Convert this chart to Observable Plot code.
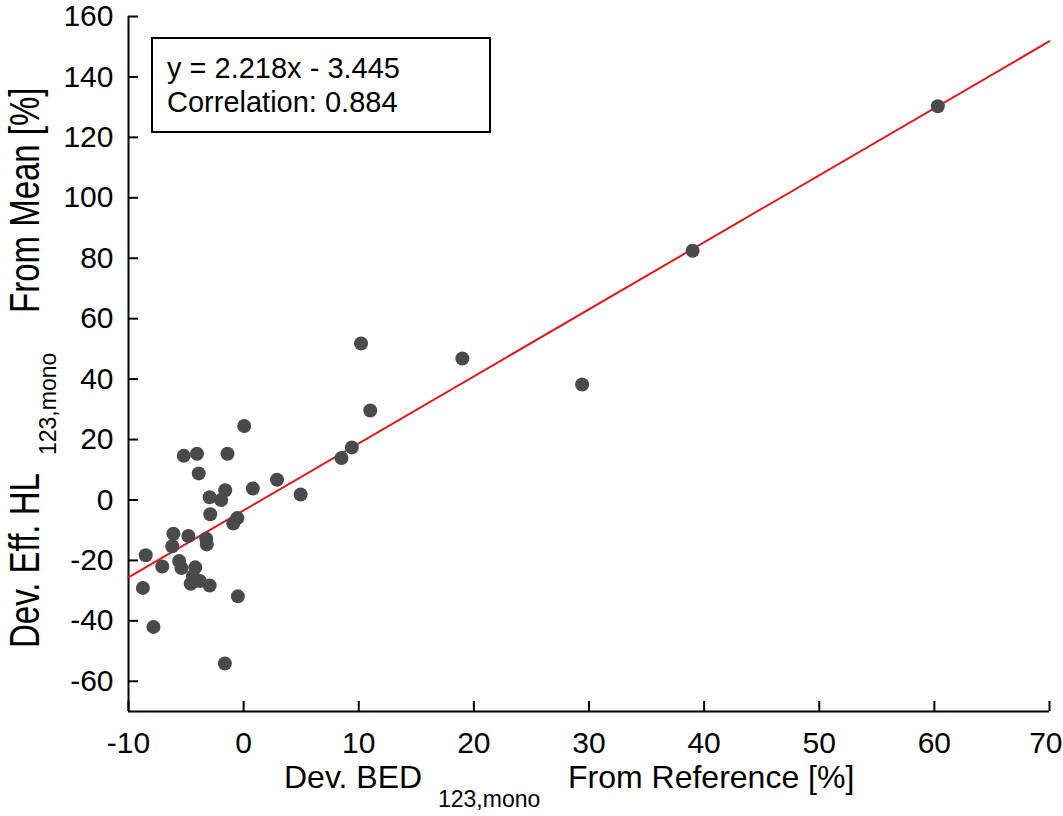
<!DOCTYPE html>
<html><head><meta charset="utf-8">
<script src="https://cdn.jsdelivr.net/npm/d3@7"></script>
<script src="https://cdn.jsdelivr.net/npm/@observablehq/plot@0.6"></script>
<style>body{margin:0;background:#fff;} svg{display:block}</style>
</head><body><div id="chart"></div>
<script>
// Dev. BED_123,mono from reference [%]
const devBED = [60.3, 39.0, 29.4, 19.0, 10.2, 11.0, 9.4, 8.5, 4.95, 2.9, 0.8, 0.05, -1.4, -4.05, -5.2, -3.9, -1.6, -2.95, -1.95, -2.9, -0.55, -0.9, -6.1, -4.8, -6.2, -3.25, -3.2, -8.5, -7.07, -5.6, -5.4, -4.2, -4.4, -4.26, -4.6, -3.8, -2.95, -8.75, -0.5, -7.83, -1.63];
// Dev. Eff. HL_123,mono from mean [%]
const devHL = [130.3, 82.5, 38.2, 46.8, 51.8, 29.6, 17.4, 13.9, 1.8, 6.7, 3.8, 24.5, 15.3, 15.3, 14.6, 8.8, 3.2, 0.9, 0.0, -4.7, -6.0, -7.8, -11.2, -11.9, -15.3, -12.8, -14.7, -18.3, -22.0, -20.2, -22.5, -22.3, -25.2, -26.8, -27.7, -26.8, -28.3, -29.1, -31.9, -42.0, -54.1];
const fitSlope = 2.218;
const fitIntercept = -3.445;
const correlation = 0.884;
const fitXEnds = [-10, 70];
const xTicks = [-10, 0, 10, 20, 30, 40, 50, 60, 70];
const xTickLast = [70];
const yTicks = [-60, -40, -20, 0, 20, 40, 60, 80, 100, 120, 140, 160];
const xDomain = [-10, 70];
const yDomain = [-70, 160];

const points = devBED.map((x, i) => ({x, y: devHL[i]}));
const fitLine = fitXEnds.map(x => ({x, y: fitSlope * x + fitIntercept}));

const FONT = "'Liberation Sans', Arial, Helvetica, sans-serif";
const fmt = d => String(d);
const fmtNoLast = d => (d === xTickLast[0] ? "" : String(d));
const chart = Plot.plot({
  width: 1063, height: 816,
  marginLeft: 128, marginRight: 14, marginTop: 16, marginBottom: 105,
  style: {fontFamily: FONT, fontSize: "30px", color: "#000", background: "#fff", overflow: "visible"},
  x: {domain: xDomain, label: null},
  y: {domain: yDomain, label: null},
  marks: [
    Plot.axisX(xTicks, {tickSize: -10, tickPadding: 30, label: null, fontSize: 30, strokeWidth: 2, tickFormat: fmtNoLast, fill: "#000"}),
    Plot.axisX(xTickLast, {tickSize: 0, tickPadding: 20, label: null, fontSize: 30, strokeWidth: 0, tickFormat: fmt, fill: "#000", textAnchor: "end", dx: 13}),
    Plot.axisY(yTicks, {tickSize: -10, tickPadding: 25, label: null, fontSize: 30, strokeWidth: 2, tickFormat: fmt, fill: "#000"}),
    Plot.ruleX([xDomain[0]], {stroke: "#000", strokeWidth: 2}),
    Plot.ruleY([yDomain[0]], {stroke: "#000", strokeWidth: 2}),
    Plot.line(fitLine, {x: "x", y: "y", stroke: "#dd1a1a", strokeWidth: 2}),
    Plot.dot(points, {x: "x", y: "y", r: 7, fill: "#4a4a4a", stroke: "none"})
  ]
});
document.getElementById("chart").append(chart);

const svg = d3.select(chart);
// x-axis title with subscript
const xt = svg.append("g").attr("font-family", FONT).attr("fill", "#000").attr("text-anchor", "start");
xt.append("text").attr("x", 284).attr("y", 788).attr("font-size", 32).text("Dev. BED");
xt.append("text").attr("x", 438).attr("y", 807).attr("font-size", 23).text("123,mono");
xt.append("text").attr("x", 568).attr("y", 788).attr("font-size", 32).text("From Reference [%]");
// y-axis title with subscript (main words are drawn taller, as in the reference)
const yt = svg.append("g").attr("font-family", FONT).attr("fill", "#000").attr("text-anchor", "start");
const ytMain = yt.append("g").attr("transform", "rotate(-90) scale(1,1.3)");
ytMain.append("text").attr("x", -648).attr("y", 39 / 1.3).attr("font-size", 33).text("Dev. Eff. HL");
ytMain.append("text").attr("x", -313).attr("y", 39 / 1.3).attr("font-size", 33).text("From Mean [%]");
yt.append("text").attr("transform", "rotate(-90)").attr("x", -455).attr("y", 56).attr("font-size", 23).text("123,mono");
// annotation box
const box = svg.append("g").attr("font-family", FONT).attr("fill", "#000").attr("text-anchor", "start");
box.append("rect").attr("x", 152).attr("y", 38).attr("width", 338).attr("height", 94).attr("fill", "none").attr("stroke", "#000").attr("stroke-width", 2);
box.append("text").attr("x", 167).attr("y", 78).attr("font-size", 29).text(`y = ${fitSlope}x - ${Math.abs(fitIntercept)}`);
box.append("text").attr("x", 167).attr("y", 112).attr("font-size", 29).text(`Correlation: ${correlation}`);
</script>
</body></html>
